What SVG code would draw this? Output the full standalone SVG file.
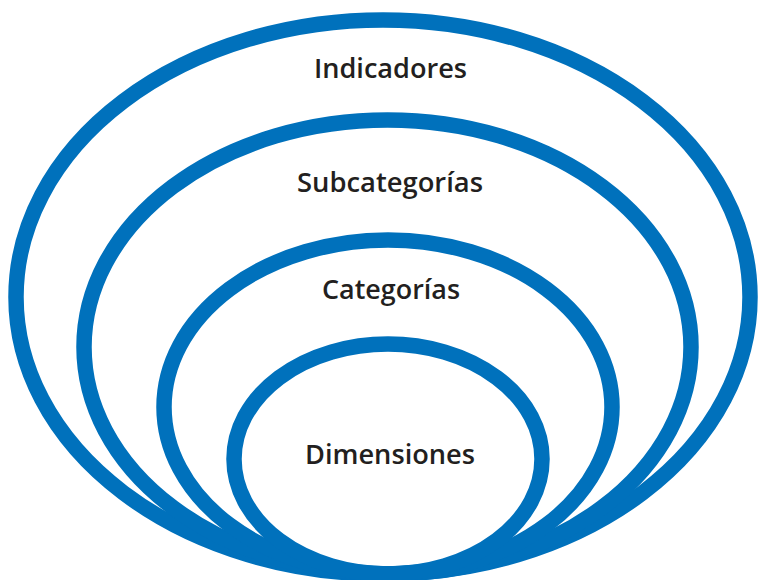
<svg xmlns="http://www.w3.org/2000/svg" width="758" height="580" viewBox="0 0 758 580">
  <style>
    .ring { fill: none; stroke: #0071BC; stroke-width: 15.5; }
    .lbl { font-family: "Open Sans", "Noto Sans", sans-serif; font-weight: 600; font-size: 27px; fill: #231F20; text-anchor: middle; }
  </style>
  <rect width="758" height="580" fill="#ffffff"/>
  <g id="indicadores">
    <ellipse class="ring" cx="383" cy="297" rx="367" ry="277"/>
    <text class="lbl" x="390.5" y="78" textLength="153" lengthAdjust="spacingAndGlyphs">Indicadores</text>
  </g>
  <g id="subcategorias">
    <ellipse class="ring" cx="387.5" cy="347" rx="303.5" ry="227"/>
    <text class="lbl" x="390" y="192" textLength="186" lengthAdjust="spacingAndGlyphs">Subcategorías</text>
  </g>
  <g id="categorias">
    <ellipse class="ring" cx="388" cy="407" rx="224" ry="167"/>
    <text class="lbl" x="391" y="299" textLength="138" lengthAdjust="spacingAndGlyphs">Categorías</text>
  </g>
  <g id="dimensiones">
    <ellipse class="ring" cx="388" cy="459" rx="154" ry="115"/>
    <text class="lbl" x="390" y="464" textLength="170" lengthAdjust="spacingAndGlyphs">Dimensiones</text>
  </g>
  <g id="connectors"></g>
</svg>
